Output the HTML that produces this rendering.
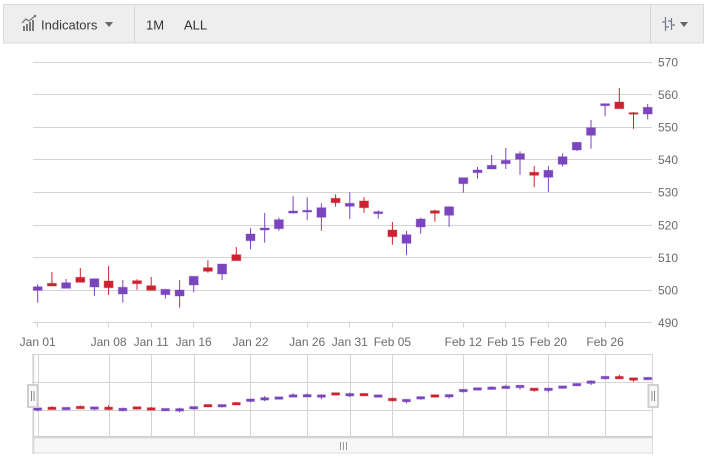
<!DOCTYPE html>
<html><head><meta charset="utf-8">
<style>
html,body{margin:0;padding:0;background:#fff;}
svg{display:block;font-family:"Liberation Sans",sans-serif;}
.P line{stroke:#7b45bd;stroke-width:1}
.P rect{fill:#7b45bd;stroke:rgba(123,69,189,.35);stroke-width:1}
.R line{stroke:#cc2231;stroke-width:1}
.R rect{fill:#cc2231;stroke:rgba(204,34,49,.35);stroke-width:1}
.g line{stroke:#d4d4d4;stroke-width:1}
.lab{fill:#6b6b6b;font-size:12px}
</style></head>
<body>
<svg width="707" height="460" viewBox="0 0 707 460" xmlns="http://www.w3.org/2000/svg">
<!-- toolbar -->
<rect x="3.5" y="4.5" width="700" height="38.5" fill="#eeeeee" stroke="#dadada"/>
<line x1="134.5" y1="5" x2="134.5" y2="43" stroke="#d6d6d6"/>
<line x1="650.5" y1="5" x2="650.5" y2="43" stroke="#d6d6d6"/>
<g fill="#7a7a7a">
<rect x="23" y="26" width="2" height="5"/>
<rect x="26" y="24" width="2" height="7"/>
<rect x="29" y="22" width="2" height="9"/>
<rect x="32" y="20" width="2" height="11"/>
</g>
<polyline points="22,23 26,19 29,21 35,16" fill="none" stroke="#7a7a7a" stroke-width="1.3"/>
<circle cx="35" cy="16" r="1.3" fill="#7a7a7a"/>
<text x="41" y="29.5" font-size="13" fill="#3a3a3a">Indicators</text>
<polygon points="105,22 113,22 109,27" fill="#666"/>
<text x="146" y="29.5" font-size="13" fill="#333">1M</text>
<text x="184" y="29.5" font-size="13" fill="#333">ALL</text>
<g stroke="#6c7a8c" stroke-width="1.2">
<line x1="665.5" y1="17" x2="665.5" y2="31"/>
<line x1="671.5" y1="18" x2="671.5" y2="30"/>
<line x1="662" y1="22" x2="665.5" y2="22"/>
<line x1="665.5" y1="27" x2="669" y2="27"/>
<line x1="668" y1="21" x2="671.5" y2="21"/>
<line x1="671.5" y1="25" x2="675" y2="25"/>
</g>
<polygon points="680,22 688,22 684,27" fill="#666"/>

<!-- main gridlines -->
<g class="g">
<line x1="33" y1="62.5" x2="652" y2="62.5"/>
<line x1="33" y1="94.5" x2="652" y2="94.5"/>
<line x1="33" y1="127.5" x2="652" y2="127.5"/>
<line x1="33" y1="159.5" x2="652" y2="159.5"/>
<line x1="33" y1="192.5" x2="652" y2="192.5"/>
<line x1="33" y1="225.5" x2="652" y2="225.5"/>
<line x1="33" y1="257.5" x2="652" y2="257.5"/>
<line x1="33" y1="290.5" x2="652" y2="290.5"/>
<line x1="33" y1="322.5" x2="652" y2="322.5"/>
<line x1="37.5" y1="322.5" x2="37.5" y2="327.5"/>
<line x1="108.5" y1="322.5" x2="108.5" y2="327.5"/>
<line x1="151.5" y1="322.5" x2="151.5" y2="327.5"/>
<line x1="193.5" y1="322.5" x2="193.5" y2="327.5"/>
<line x1="250.5" y1="322.5" x2="250.5" y2="327.5"/>
<line x1="307.5" y1="322.5" x2="307.5" y2="327.5"/>
<line x1="349.5" y1="322.5" x2="349.5" y2="327.5"/>
<line x1="392.5" y1="322.5" x2="392.5" y2="327.5"/>
<line x1="463.5" y1="322.5" x2="463.5" y2="327.5"/>
<line x1="505.5" y1="322.5" x2="505.5" y2="327.5"/>
<line x1="548.5" y1="322.5" x2="548.5" y2="327.5"/>
<line x1="605.5" y1="322.5" x2="605.5" y2="327.5"/>
</g>
<!-- y labels -->
<g class="lab">
<text x="658" y="66.5">570</text>
<text x="658" y="99">560</text>
<text x="658" y="131.5">550</text>
<text x="658" y="164">540</text>
<text x="658" y="196.5">530</text>
<text x="658" y="229.5">520</text>
<text x="658" y="262">510</text>
<text x="658" y="294.5">500</text>
<text x="658" y="327">490</text>
</g>
<!-- x labels -->
<g class="lab" text-anchor="middle">
<text x="37.7" y="346">Jan 01</text>
<text x="108.6" y="346">Jan 08</text>
<text x="151.2" y="346">Jan 11</text>
<text x="193.7" y="346">Jan 16</text>
<text x="250.5" y="346">Jan 22</text>
<text x="307.2" y="346">Jan 26</text>
<text x="349.8" y="346">Jan 31</text>
<text x="392.4" y="346">Feb 05</text>
<text x="463.3" y="346">Feb 12</text>
<text x="505.8" y="346">Feb 15</text>
<text x="548.4" y="346">Feb 20</text>
<text x="605.1" y="346">Feb 26</text>
</g>

<!-- main candles -->
<g class="P"><line x1="37.7" y1="284.3" x2="37.7" y2="302.7"/><rect x="33.2" y="286.7" width="9" height="3.6"/></g>
<g class="R"><line x1="51.9" y1="272" x2="51.9" y2="286"/><rect x="47.4" y="283.3" width="9" height="2.7"/></g>
<g class="P"><line x1="66.1" y1="279" x2="66.1" y2="288.3"/><rect x="61.6" y="282.7" width="9" height="5.6"/></g>
<g class="R"><line x1="80.3" y1="268" x2="80.3" y2="282.3"/><rect x="75.8" y="277.3" width="9" height="5"/></g>
<g class="P"><line x1="94.4" y1="278.7" x2="94.4" y2="296"/><rect x="89.9" y="278.7" width="9" height="8.3"/></g>
<g class="R"><line x1="108.6" y1="266" x2="108.6" y2="295"/><rect x="104.1" y="281" width="9" height="6.7"/></g>
<g class="P"><line x1="122.8" y1="280" x2="122.8" y2="302.7"/><rect x="118.3" y="287.3" width="9" height="6.7"/></g>
<g class="R"><line x1="137" y1="279.3" x2="137" y2="289.7"/><rect x="132.5" y="280.7" width="9" height="3"/></g>
<g class="R"><line x1="151.2" y1="277" x2="151.2" y2="290.3"/><rect x="146.7" y="285.7" width="9" height="4.6"/></g>
<g class="P"><line x1="165.4" y1="289.3" x2="165.4" y2="298.7"/><rect x="160.9" y="289.3" width="9" height="5.4"/></g>
<g class="P"><line x1="179.6" y1="280" x2="179.6" y2="307.7"/><rect x="175.1" y="290" width="9" height="6"/></g>
<g class="P"><line x1="193.7" y1="276.3" x2="193.7" y2="292.3"/><rect x="189.2" y="276.3" width="9" height="8.7"/></g>
<g class="R"><line x1="207.9" y1="260.3" x2="207.9" y2="272.7"/><rect x="203.4" y="267.7" width="9" height="3.6"/></g>
<g class="P"><line x1="222.1" y1="264" x2="222.1" y2="280"/><rect x="217.6" y="264" width="9" height="10"/></g>
<g class="R"><line x1="236.3" y1="247" x2="236.3" y2="260.7"/><rect x="231.8" y="254.7" width="9" height="6"/></g>
<g class="P"><line x1="250.5" y1="228.3" x2="250.5" y2="249.3"/><rect x="246" y="234" width="9" height="6.7"/></g>
<g class="P"><line x1="264.7" y1="213" x2="264.7" y2="242.7"/><rect x="260.2" y="228" width="9" height="2"/></g>
<g class="P"><line x1="278.9" y1="217.7" x2="278.9" y2="230.7"/><rect x="274.4" y="219.7" width="9" height="9"/></g>
<g class="P"><line x1="293.1" y1="196" x2="293.1" y2="213.7"/><rect x="288.6" y="211" width="9" height="2"/></g>
<g class="P"><line x1="307.2" y1="197.3" x2="307.2" y2="220"/><rect x="302.7" y="210.3" width="9" height="1.7"/></g>
<g class="P"><line x1="321.4" y1="203.3" x2="321.4" y2="230.7"/><rect x="316.9" y="207.7" width="9" height="9.6"/></g>
<g class="R"><line x1="335.6" y1="194.3" x2="335.6" y2="206.7"/><rect x="331.1" y="198.3" width="9" height="4.4"/></g>
<g class="P"><line x1="349.8" y1="192.3" x2="349.8" y2="219"/><rect x="345.3" y="203.3" width="9" height="3"/></g>
<g class="R"><line x1="364" y1="197.3" x2="364" y2="212.7"/><rect x="359.5" y="201" width="9" height="6.7"/></g>
<g class="P"><line x1="378.2" y1="210.3" x2="378.2" y2="218.7"/><rect x="373.7" y="211.7" width="9" height="2"/></g>
<g class="R"><line x1="392.4" y1="222" x2="392.4" y2="244.7"/><rect x="387.9" y="230" width="9" height="6.7"/></g>
<g class="P"><line x1="406.5" y1="231" x2="406.5" y2="255.3"/><rect x="402" y="234.7" width="9" height="8.6"/></g>
<g class="P"><line x1="420.7" y1="217.7" x2="420.7" y2="233.7"/><rect x="416.2" y="219" width="9" height="8"/></g>
<g class="R"><line x1="434.9" y1="209.7" x2="434.9" y2="221.7"/><rect x="430.4" y="210.7" width="9" height="2.6"/></g>
<g class="P"><line x1="449.1" y1="206.7" x2="449.1" y2="226.7"/><rect x="444.6" y="206.7" width="9" height="8.6"/></g>
<g class="P"><line x1="463.3" y1="177.7" x2="463.3" y2="192.7"/><rect x="458.8" y="177.7" width="9" height="6"/></g>
<g class="P"><line x1="477.5" y1="167" x2="477.5" y2="178.7"/><rect x="473" y="170" width="9" height="2.7"/></g>
<g class="P"><line x1="491.7" y1="155" x2="491.7" y2="169"/><rect x="487.2" y="165.3" width="9" height="3.7"/></g>
<g class="P"><line x1="505.8" y1="148" x2="505.8" y2="169"/><rect x="501.3" y="160.3" width="9" height="3.4"/></g>
<g class="P"><line x1="520" y1="151.3" x2="520" y2="174.7"/><rect x="515.5" y="153.7" width="9" height="5.6"/></g>
<g class="R"><line x1="534.2" y1="166" x2="534.2" y2="187.3"/><rect x="529.7" y="172.3" width="9" height="3"/></g>
<g class="P"><line x1="548.4" y1="166" x2="548.4" y2="192"/><rect x="543.9" y="170.3" width="9" height="7"/></g>
<g class="P"><line x1="562.6" y1="153.3" x2="562.6" y2="166.7"/><rect x="558.1" y="156.7" width="9" height="7.6"/></g>
<g class="P"><line x1="576.8" y1="142.3" x2="576.8" y2="151"/><rect x="572.3" y="142.3" width="9" height="7.7"/></g>
<g class="P"><line x1="591" y1="120" x2="591" y2="148.7"/><rect x="586.5" y="127.7" width="9" height="7.6"/></g>
<g class="P"><line x1="605.1" y1="103.7" x2="605.1" y2="116.3"/><rect x="600.6" y="103.7" width="9" height="2"/></g>
<g class="R"><line x1="619.3" y1="88" x2="619.3" y2="108.7"/><rect x="614.8" y="102" width="9" height="6.7"/></g>
<g class="R"><line x1="633.5" y1="112" x2="633.5" y2="128.7"/><rect x="629" y="112.7" width="9" height="1.5"/></g>
<g class="P"><line x1="647.7" y1="104" x2="647.7" y2="119.3"/><rect x="643.2" y="107.3" width="9" height="6.7"/></g>

<!-- navigator -->
<g class="g">
<line x1="33" y1="354.5" x2="653" y2="354.5"/>
<line x1="33" y1="382.5" x2="653" y2="382.5"/>
<line x1="33" y1="410.5" x2="653" y2="410.5"/>
<line x1="38.5" y1="354" x2="38.5" y2="437"/>
<line x1="109.5" y1="354" x2="109.5" y2="437"/>
<line x1="151.5" y1="354" x2="151.5" y2="437"/>
<line x1="194.5" y1="354" x2="194.5" y2="437"/>
<line x1="250.5" y1="354" x2="250.5" y2="437"/>
<line x1="307.5" y1="354" x2="307.5" y2="437"/>
<line x1="350.5" y1="354" x2="350.5" y2="437"/>
<line x1="392.5" y1="354" x2="392.5" y2="437"/>
<line x1="463.5" y1="354" x2="463.5" y2="437"/>
<line x1="506.5" y1="354" x2="506.5" y2="437"/>
<line x1="548.5" y1="354" x2="548.5" y2="437"/>
<line x1="605.5" y1="354" x2="605.5" y2="437"/>
</g>
<line x1="33.3" y1="354" x2="33.3" y2="454" stroke="#d6d6d6" stroke-width="2"/>
<line x1="652.5" y1="354" x2="652.5" y2="454" stroke="#d6d6d6" stroke-width="1"/>
<line x1="33" y1="437" x2="653" y2="437" stroke="#cfcfcf" stroke-width="2"/>
<rect x="34" y="438" width="618.5" height="15" fill="#f7f7f7" stroke="#dcdcdc" stroke-width="1"/>
<g stroke="#999" stroke-width="1">
<line x1="340.5" y1="442" x2="340.5" y2="450"/>
<line x1="343.5" y1="442" x2="343.5" y2="450"/>
<line x1="346.5" y1="442" x2="346.5" y2="450"/>
</g>

<!-- navigator candles -->
<g class="P"><line x1="37.7" y1="408.3" x2="37.7" y2="411.5"/><rect x="33.7" y="407.8" width="8" height="2.5"/></g>
<g class="R"><line x1="51.9" y1="406.2" x2="51.9" y2="408.6"/><rect x="47.9" y="407.1" width="8" height="2.5"/></g>
<g class="P"><line x1="66.1" y1="407.4" x2="66.1" y2="409"/><rect x="62.1" y="407.3" width="8" height="2.5"/></g>
<g class="R"><line x1="80.3" y1="405.5" x2="80.3" y2="408"/><rect x="76.3" y="406.3" width="8" height="2.5"/></g>
<g class="P"><line x1="94.4" y1="407.4" x2="94.4" y2="410.3"/><rect x="90.4" y="406.8" width="8" height="2.5"/></g>
<g class="R"><line x1="108.6" y1="405.2" x2="108.6" y2="410.2"/><rect x="104.6" y="407.1" width="8" height="2.5"/></g>
<g class="P"><line x1="122.8" y1="407.6" x2="122.8" y2="411.5"/><rect x="118.8" y="408.2" width="8" height="2.5"/></g>
<g class="R"><line x1="137" y1="407.5" x2="137" y2="409.2"/><rect x="133" y="406.7" width="8" height="2.5"/></g>
<g class="R"><line x1="151.2" y1="407.1" x2="151.2" y2="409.5"/><rect x="147.2" y="407.7" width="8" height="2.5"/></g>
<g class="P"><line x1="165.4" y1="409" x2="165.4" y2="410.8"/><rect x="161.4" y="408.4" width="8" height="2.5"/></g>
<g class="P"><line x1="179.6" y1="407.6" x2="179.6" y2="412.3"/><rect x="175.6" y="408.6" width="8" height="2.5"/></g>
<g class="P"><line x1="193.7" y1="406.5" x2="193.7" y2="409.7"/><rect x="189.7" y="406.5" width="8" height="2.5"/></g>
<g class="R"><line x1="207.9" y1="404.2" x2="207.9" y2="407"/><rect x="203.9" y="404.5" width="8" height="2.5"/></g>
<g class="P"><line x1="222.1" y1="404.5" x2="222.1" y2="407.6"/><rect x="218.1" y="404.5" width="8" height="2.5"/></g>
<g class="R"><line x1="236.3" y1="401.9" x2="236.3" y2="405"/><rect x="232.3" y="402.5" width="8" height="2.5"/></g>
<g class="P"><line x1="250.5" y1="398.7" x2="250.5" y2="402.3"/><rect x="246.5" y="399" width="8" height="2.5"/></g>
<g class="P"><line x1="264.7" y1="396.1" x2="264.7" y2="401.2"/><rect x="260.7" y="397.6" width="8" height="2.5"/></g>
<g class="P"><line x1="278.9" y1="397.2" x2="278.9" y2="399.1"/><rect x="274.9" y="396.8" width="8" height="2.5"/></g>
<g class="P"><line x1="293.1" y1="393.2" x2="293.1" y2="397"/><rect x="289.1" y="394.7" width="8" height="2.5"/></g>
<g class="P"><line x1="307.2" y1="393.4" x2="307.2" y2="397.3"/><rect x="303.2" y="394.5" width="8" height="2.5"/></g>
<g class="P"><line x1="321.4" y1="394.4" x2="321.4" y2="399.1"/><rect x="317.4" y="394.8" width="8" height="2.5"/></g>
<g class="R"><line x1="335.6" y1="392.9" x2="335.6" y2="395"/><rect x="331.6" y="392.7" width="8" height="2.5"/></g>
<g class="P"><line x1="349.8" y1="392.6" x2="349.8" y2="397.1"/><rect x="345.8" y="393.5" width="8" height="2.5"/></g>
<g class="R"><line x1="364" y1="393.4" x2="364" y2="396.1"/><rect x="360" y="393.4" width="8" height="2.5"/></g>
<g class="P"><line x1="378.2" y1="395" x2="378.2" y2="397.1"/><rect x="374.2" y="394.8" width="8" height="2.5"/></g>
<g class="R"><line x1="392.4" y1="397.7" x2="392.4" y2="401.5"/><rect x="388.4" y="398.3" width="8" height="2.5"/></g>
<g class="P"><line x1="406.5" y1="399.2" x2="406.5" y2="403.4"/><rect x="402.5" y="399.3" width="8" height="2.5"/></g>
<g class="P"><line x1="420.7" y1="396.6" x2="420.7" y2="399.7"/><rect x="416.7" y="396.6" width="8" height="2.5"/></g>
<g class="R"><line x1="434.9" y1="394.7" x2="434.9" y2="397.6"/><rect x="430.9" y="394.7" width="8" height="2.5"/></g>
<g class="P"><line x1="449.1" y1="394.5" x2="449.1" y2="398.5"/><rect x="445.1" y="394.5" width="8" height="2.5"/></g>
<g class="P"><line x1="463.3" y1="389.3" x2="463.3" y2="392.6"/><rect x="459.3" y="389.3" width="8" height="2.5"/></g>
<g class="P"><line x1="477.5" y1="388.2" x2="477.5" y2="390.2"/><rect x="473.5" y="387.7" width="8" height="2.5"/></g>
<g class="P"><line x1="491.7" y1="386.2" x2="491.7" y2="389"/><rect x="487.7" y="387" width="8" height="2.5"/></g>
<g class="P"><line x1="505.8" y1="385" x2="505.8" y2="388.6"/><rect x="501.8" y="386.1" width="8" height="2.5"/></g>
<g class="P"><line x1="520" y1="385.2" x2="520" y2="389.6"/><rect x="516" y="385.2" width="8" height="2.5"/></g>
<g class="R"><line x1="534.2" y1="388.1" x2="534.2" y2="391.7"/><rect x="530.2" y="388.1" width="8" height="2.5"/></g>
<g class="P"><line x1="548.4" y1="388.1" x2="548.4" y2="392.5"/><rect x="544.4" y="388.1" width="8" height="2.5"/></g>
<g class="P"><line x1="562.6" y1="385.9" x2="562.6" y2="388.5"/><rect x="558.6" y="385.9" width="8" height="2.5"/></g>
<g class="P"><line x1="576.8" y1="383.4" x2="576.8" y2="386"/><rect x="572.8" y="383.4" width="8" height="2.5"/></g>
<g class="P"><line x1="591" y1="380.2" x2="591" y2="385.1"/><rect x="587" y="380.9" width="8" height="2.5"/></g>
<g class="P"><line x1="605.1" y1="376.3" x2="605.1" y2="379.5"/><rect x="601.1" y="376.3" width="8" height="2.5"/></g>
<g class="R"><line x1="619.3" y1="374.7" x2="619.3" y2="378.9"/><rect x="615.3" y="376.4" width="8" height="2.5"/></g>
<g class="R"><line x1="633.5" y1="377.8" x2="633.5" y2="381.7"/><rect x="629.5" y="377.8" width="8" height="2.5"/></g>
<g class="P"><line x1="647.7" y1="377.4" x2="647.7" y2="380.1"/><rect x="643.7" y="377.3" width="8" height="2.5"/></g>

<!-- handles -->
<rect x="28" y="385" width="9.5" height="22" fill="#fafafa" stroke="#cfcfcf" stroke-width="2"/>
<line x1="31.5" y1="391" x2="31.5" y2="401" stroke="#888" stroke-width="1"/>
<line x1="34" y1="391" x2="34" y2="401" stroke="#888" stroke-width="1"/>
<rect x="648.5" y="385" width="9.5" height="22" fill="#fafafa" stroke="#cfcfcf" stroke-width="2"/>
<line x1="652" y1="391" x2="652" y2="401" stroke="#888" stroke-width="1"/>
<line x1="654.5" y1="391" x2="654.5" y2="401" stroke="#888" stroke-width="1"/>
</svg>
</body></html>
